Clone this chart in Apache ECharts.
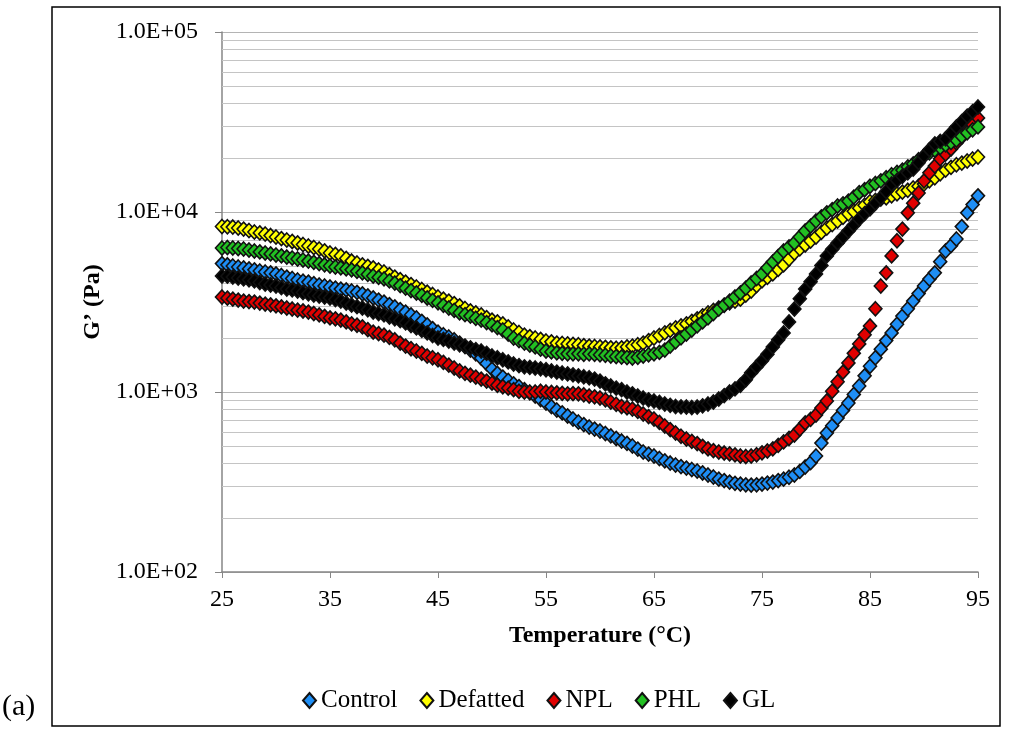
<!DOCTYPE html>
<html lang="en">
<head>
    <meta charset="UTF-8">
    <title>G' vs Temperature</title>
    <script src="https://cdn.jsdelivr.net/npm/echarts@6/dist/echarts.min.js"></script>
    <style>
        html, body { margin: 0; padding: 0; background: #fff; }
        #myChart { width: 1009px; height: 730px; }
    </style>
</head>
<body>
    <div id="myChart"></div>

    <script>
        // temperature steps (°C)
        var temps = [25,25.5,26,26.5,27,27.5,28,28.5,29,29.5,30,30.5,31,31.5,32,32.5,33,33.5,34,34.5,
            35,35.5,36,36.5,37,37.5,38,38.5,39,39.5,40,40.5,41,41.5,42,42.5,43,43.5,44,44.5,
            45,45.5,46,46.5,47,47.5,48,48.5,49,49.5,50,50.5,51,51.5,52,52.5,53,53.5,54,54.5,
            55,55.5,56,56.5,57,57.5,58,58.5,59,59.5,60,60.5,61,61.5,62,62.5,63,63.5,64,64.5,
            65,65.5,66,66.5,67,67.5,68,68.5,69,69.5,70,70.5,71,71.5,72,72.5,73,73.5,74,74.5,
            75,75.5,76,76.5,77,77.5,78,78.5,79,79.5,80,80.5,81,81.5,82,82.5,83,83.5,84,84.5,
            85,85.5,86,86.5,87,87.5,88,88.5,89,89.5,90,90.5,91,91.5,92,92.5,93,93.5,94,94.5,95];

        // G' (Pa) per sample
        var control = [5170,5090,5010,4950,4890,4830,4770,4700,4640,4590,4530,4440,4350,4270,4190,4130,4080,4000,3930,3880,
            3830,3780,3730,3690,3640,3580,3510,3420,3330,3240,3160,3060,2970,2870,2780,2680,2580,2470,2360,2250,
            2150,2080,2020,1950,1870,1790,1710,1630,1545,1440,1340,1270,1210,1160,1110,1070,1030,990,950,908,
            869,830,794,765,736,708,681,659,639,622,607,588,570,552,534,518,501,482,464,452,
            441,427,414,403,393,385,378,371,364,355,346,337,328,322,316,311,308,305,304,305,
            308,312,316,322,328,336,346,362,383,405,441,520,592,650,718,790,869,970,1080,1230,
            1390,1550,1730,1930,2130,2380,2640,2900,3200,3520,3880,4240,4590,5300,6070,6500,7080,8300,9890,11000,12300];

        var defatted = [8310,8280,8250,8150,8040,7890,7740,7650,7550,7400,7260,7120,6990,6860,6730,6600,6470,6350,6230,6080,
            5920,5810,5700,5520,5340,5210,5080,4990,4890,4760,4640,4490,4350,4210,4080,3950,3830,3710,3590,3480,
            3370,3280,3200,3100,3010,2910,2820,2750,2680,2590,2510,2450,2390,2300,2210,2140,2070,2030,1995,1960,
            1920,1900,1870,1860,1850,1840,1830,1810,1800,1790,1780,1770,1760,1750,1760,1780,1800,1830,1870,1930,
            1995,2060,2130,2200,2270,2330,2390,2470,2550,2650,2750,2840,2930,3030,3130,3200,3280,3450,3640,3900,
            4140,4330,4530,4800,5080,5480,5920,6250,6560,6900,7260,7700,8150,8520,8910,9330,9770,10100,10500,10900,
            11400,11600,11800,12000,12300,12600,12900,13200,13600,13900,14300,14900,15500,16300,17100,17700,18300,18700,19200,19700,20200];

        var npl = [3370,3320,3280,3240,3200,3180,3160,3120,3080,3050,3010,2970,2930,2890,2850,2820,2780,2730,2680,2630,
            2580,2550,2510,2450,2390,2350,2300,2220,2150,2110,2070,2010,1950,1870,1800,1740,1690,1640,1585,1550,
            1510,1460,1410,1360,1310,1270,1240,1210,1180,1150,1120,1090,1070,1050,1030,1010,1000,1000,1000,1010,
            1000,995,989,983,977,980,977,965,950,940,926,905,880,855,831,818,804,780,755,730,
            708,678,647,618,592,568,548,532,517,499,483,472,464,458,453,447,441,438,441,448,
            459,470,483,505,528,552,577,622,673,705,745,815,891,1010,1140,1290,1450,1640,1850,2080,
            2330,2900,3880,4590,5700,6920,8040,9890,11200,12750,14870,16500,18000,19750,21000,22400,24200,26100,28200,30400,33300];

        var phl = [6310,6350,6310,6270,6230,6150,6070,6000,5920,5850,5770,5700,5620,5550,5480,5410,5340,5250,5170,5090,
            5010,4950,4890,4830,4770,4680,4590,4500,4410,4330,4250,4140,4030,3900,3780,3660,3550,3440,3330,3230,
            3130,3030,2930,2840,2750,2690,2640,2570,2510,2430,2360,2280,2210,2100,1995,1930,1870,1820,1780,1730,
            1690,1670,1650,1640,1630,1630,1630,1620,1630,1620,1610,1600,1585,1575,1565,1555,1545,1560,1585,1610,
            1630,1660,1710,1800,1900,2000,2100,2210,2330,2450,2580,2730,2890,3040,3200,3370,3550,3780,4030,4270,
            4530,4890,5280,5660,6070,6400,6730,7260,7840,8350,8910,9400,9890,10300,10800,11100,11500,12100,12800,13300,
            13900,14400,14900,15500,16100,16600,17100,17800,18500,19500,20500,21300,22100,22800,23600,24300,25100,26300,27500,28600,29700];

        var gl = [4410,4400,4350,4300,4250,4200,4140,4060,3980,3930,3880,3800,3730,3690,3640,3570,3510,3460,3410,3370,
            3330,3260,3200,3120,3040,2980,2930,2860,2780,2730,2680,2610,2550,2490,2420,2340,2270,2200,2130,2060,
            1995,1960,1920,1870,1830,1800,1760,1720,1690,1640,1585,1550,1510,1470,1430,1400,1380,1370,1360,1345,
            1330,1310,1290,1275,1260,1245,1230,1215,1200,1180,1150,1110,1080,1050,1030,1000,977,950,926,905,
            891,875,858,843,831,826,825,820,825,838,858,880,914,955,1000,1040,1090,1170,1280,1380,
            1490,1620,1780,1950,2130,2450,2890,3300,3730,4100,4530,5050,5700,6200,6730,7260,7840,8470,9140,9800,
            10400,11200,12000,13000,14300,15000,15800,16500,17300,18800,20500,22200,23900,24700,25500,27500,29700,31800,34100,36100,38300];

        var seriesNames = ['Control', 'Defatted', 'NPL', 'PHL', 'GL'];
        var seriesValues = [control, defatted, npl, phl, gl];
        var seriesColors = ['#1e8ef5', '#ffff00', '#e00000', '#22c022', '#000000'];

        var xTicks = [25, 35, 45, 55, 65, 75, 85, 95];
        var minorGrid = [200,300,400,500,600,700,800,900,
            2000,3000,4000,5000,6000,7000,8000,9000,
            20000,30000,40000,50000,60000,70000,80000,90000];

        var serif = 'Liberation Serif, Times New Roman, serif';

        function pairs(vals) {
            return temps.map(function (t, i) { return [t, vals[i]]; });
        }

        var series = [{
            // holder for the minor log gridlines
            type: 'scatter',
            data: [],
            silent: true,
            markLine: {
                silent: true,
                symbol: ['none', 'none'],
                label: { show: false },
                lineStyle: { color: '#c4c4c4', type: 'solid', width: 1 },
                emphasis: { disabled: true },
                data: minorGrid.map(function (v) { return { yAxis: v }; })
            }
        }];
        seriesNames.forEach(function (n, i) {
            series.push({
                name: n,
                type: 'scatter',
                symbol: 'diamond',
                symbolSize: [13, 14],
                z: 10,
                data: pairs(seriesValues[i]),
                itemStyle: {
                    color: seriesColors[i],
                    opacity: 1,
                    borderColor: '#111',
                    borderWidth: 1.6
                }
            });
        });

        var myChart = echarts.init(document.getElementById('myChart'));
        var option = {
            animation: false,
            backgroundColor: '#fff',
            grid: { left: 222, right: 31, top: 32, bottom: 158, outerBoundsMode: 'none' },
            legend: {
                data: seriesNames,
                left: 297,
                top: 683,
                icon: 'diamond',
                itemWidth: 13,
                itemHeight: 15,
                itemGap: 22,
                textStyle: { fontFamily: serif, fontSize: 25, color: '#000' }
            },
            xAxis: {
                type: 'value',
                min: 25,
                max: 95,
                name: 'Temperature (°C)',
                nameLocation: 'middle',
                nameGap: 52,
                nameTextStyle: { fontFamily: serif, fontSize: 24, fontWeight: 'bold', color: '#000' },
                axisLine: { show: true, lineStyle: { color: '#868686', width: 1.5 } },
                axisTick: { show: true, length: 6, customValues: xTicks, lineStyle: { color: '#868686' } },
                axisLabel: { customValues: xTicks, fontFamily: serif, fontSize: 24, color: '#000', margin: 16 },
                splitLine: { show: false }
            },
            yAxis: {
                type: 'log',
                logBase: 10,
                min: 100,
                max: 100000,
                name: 'G’ (Pa)',
                nameLocation: 'middle',
                nameGap: 113,
                nameTextStyle: { fontFamily: serif, fontSize: 24, fontWeight: 'bold', color: '#000' },
                axisLine: { show: true, lineStyle: { color: '#868686', width: 1.5 } },
                axisTick: { show: true, length: 7, lineStyle: { color: '#868686' } },
                axisLabel: {
                    fontFamily: serif, fontSize: 24, color: '#000', margin: 24,
                    formatter: function (v) {
                        var e = Math.round(Math.log10(v));
                        return '1.0E+' + (e < 10 ? '0' : '') + e;
                    }
                },
                splitLine: { show: true, lineStyle: { color: '#b4b4b4', width: 1 } }
            },
            graphic: [
                {
                    type: 'rect',
                    silent: true,
                    shape: { x: 52, y: 7, width: 948, height: 719 },
                    style: { fill: 'none', stroke: '#000', lineWidth: 1.5 }
                },
                {
                    type: 'text',
                    left: 2,
                    top: 692,
                    style: { text: '(a)', font: '30px ' + serif, fill: '#000' }
                }
            ],
            series: series
        };
        myChart.setOption(option);
    </script>
</body>
</html>
